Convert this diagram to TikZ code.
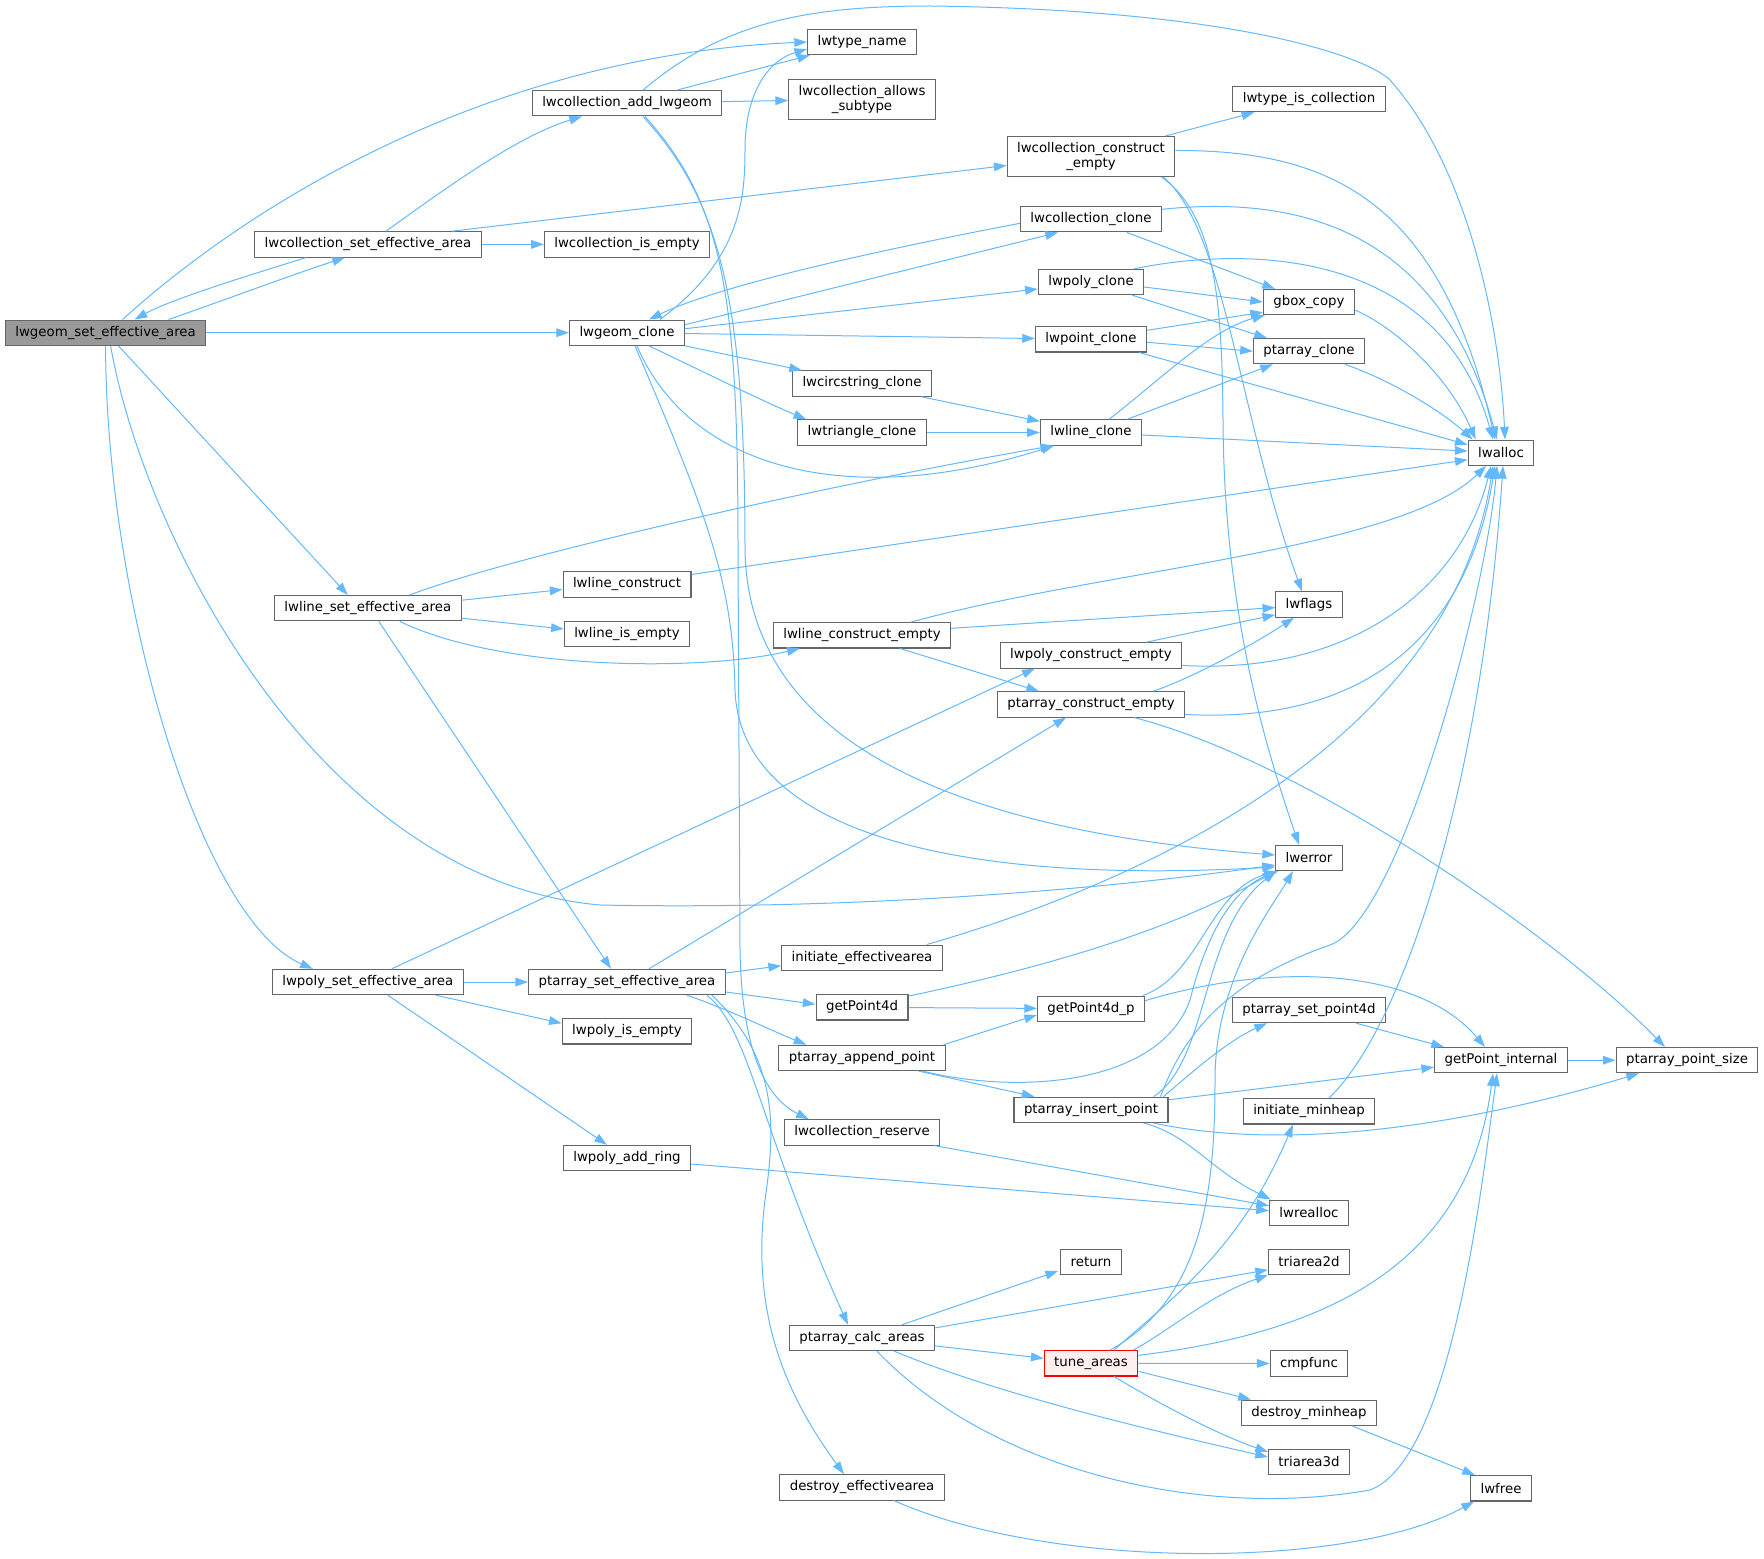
\documentclass[tikz,border=0pt]{standalone}
\usepackage{fontspec}
\setmainfont{DejaVu Sans}
\usepackage{xcolor}
\usetikzlibrary{arrows.meta, calc}
\definecolor{edgeblue}{HTML}{63B8FF}
\definecolor{boxgray}{HTML}{666666}
\definecolor{maingray}{HTML}{999999}
\definecolor{pinkfill}{HTML}{FFF0F0}

\begin{document}
\begin{tikzpicture}[x=0.75pt, y=-0.75pt,
    fn/.style={draw=boxgray, fill=white, rectangle, line width=0.8pt, minimum height=19pt, inner xsep=7.5pt, inner ysep=1pt, font=\fontsize{10pt}{11.25pt}\selectfont},
    fn2/.style={fn, align=center, minimum height=30pt},
    fnmain/.style={fn, fill=maingray},
    fnred/.style={fn, draw=red, fill=pinkfill},
    call/.style={draw=edgeblue, line width=0.75pt, -{Triangle[length=9.5pt, width=6.5pt]}}]

    \useasboundingbox (0, 0) rectangle (1764, 1559);

    % rank 0 .. 3
    \node [fnmain] (setArea) at (105.6, 332.7) {lwgeom\_set\_effective\_area};
    \node [fn] (collSet) at (368, 244.4) {lwcollection\_set\_effective\_area};
    \node [fn] (lineSet) at (367.8, 608.2) {lwline\_set\_effective\_area};
    \node [fn] (polySet) at (367.8, 982) {lwpoly\_set\_effective\_area};
    \node [fn] (collAdd) at (627, 103.3) {lwcollection\_add\_lwgeom};
    \node [fn] (collEmpty) at (627, 244.4) {lwcollection\_is\_empty};
    \node [fn] (geomClone) at (627, 332.7) {lwgeom\_clone};
    \node [fn] (lineConstr) at (627, 584.5) {lwline\_construct};
    \node [fn] (lineEmpty) at (627, 634) {lwline\_is\_empty};
    \node [fn] (paSet) at (627, 982) {ptarray\_set\_effective\_area};
    \node [fn] (polyEmpty) at (627, 1031.3) {lwpoly\_is\_empty};
    \node [fn] (polyRing) at (627, 1158) {lwpoly\_add\_ring};
    \node [fn] (typeName) at (862, 42) {lwtype\_name};
    \node [fn2] (collAllows) at (862, 99.2) {lwcollection\_allows\\\_subtype};
    \node [fn] (circClone) at (862, 383.5) {lwcircstring\_clone};
    \node [fn] (triClone) at (862, 432.5) {lwtriangle\_clone};
    \node [fn] (lineConstrEmpty) at (862, 635.3) {lwline\_construct\_empty};
    \node [fn] (initArea) at (862, 957.7) {initiate\_effectivearea};
    \node [fn] (getP4d) at (862, 1007.3) {getPoint4d};
    \node [fn] (paAppend) at (862, 1057.9) {ptarray\_append\_point};
    \node [fn] (collReserve) at (862, 1132.4) {lwcollection\_reserve};
    \node [fn] (calcAreas) at (862, 1337.9) {ptarray\_calc\_areas};
    \node [fn] (destroyArea) at (862, 1487.4) {destroy\_effectivearea};

    % rank 4 .. 7
    \node [fn2] (collConstrEmpty) at (1091, 156.5) {lwcollection\_construct\\\_empty};
    \node [fn] (collClone) at (1091, 219.3) {lwcollection\_clone};
    \node [fn] (polyClone) at (1091, 282) {lwpoly\_clone};
    \node [fn] (pointClone) at (1091, 339.3) {lwpoint\_clone};
    \node [fn] (lineClone) at (1091, 432.5) {lwline\_clone};
    \node [fn] (polyConstrEmpty) at (1091, 655.4) {lwpoly\_construct\_empty};
    \node [fn] (paConstrEmpty) at (1091, 704.4) {ptarray\_construct\_empty};
    \node [fn] (getP4dp) at (1091, 1008.7) {getPoint4d\_p};
    \node [fn] (paInsert) at (1091, 1109.8) {ptarray\_insert\_point};
    \node [fn] (retNode) at (1091, 1261.8) {return};
    \node [fnred] (tuneAreas) at (1091, 1363.3) {tune\_areas};
    \node [fn] (typeIsColl) at (1309, 99.2) {lwtype\_is\_collection};
    \node [fn] (gboxCopy) at (1309, 302) {gbox\_copy};
    \node [fn] (paClone) at (1309, 351.2) {ptarray\_clone};
    \node [fn] (flagsNode) at (1309, 604.6) {lwflags};
    \node [fn] (errNode) at (1309, 858) {lwerror};
    \node [fn] (paSetP4d) at (1309, 1010) {ptarray\_set\_point4d};
    \node [fn] (initHeap) at (1309, 1111.3) {initiate\_minheap};
    \node [fn] (reallocNode) at (1309, 1212.7) {lwrealloc};
    \node [fn] (tri2d) at (1309, 1261.8) {triarea2d};
    \node [fn] (cmpNode) at (1309, 1363.5) {cmpfunc};
    \node [fn] (destroyHeap) at (1309, 1412.7) {destroy\_minheap};
    \node [fn] (tri3d) at (1309, 1462) {triarea3d};
    \node [fn] (allocNode) at (1501, 452.7) {lwalloc};
    \node [fn] (getInternal) at (1501, 1060.2) {getPoint\_internal};
    \node [fn] (freeNode) at (1501, 1488.3) {lwfree};
    \node [fn] (pointSize) at (1687, 1060.2) {ptarray\_point\_size};

    % lwgeom_set_effective_area
    \draw [call] ($(setArea.north)+(17,0)$) .. controls (260, 195) and (500, 55) .. (typeName.west);
    \draw [call] ($(setArea.north)+(63,0)$) .. controls (230, 298) and (300, 272) .. ($(collSet.south)+(-23,0)$);
    \draw [call] (setArea) -- (geomClone);
    \draw [call] ($(setArea.south)+(13,0)$) -- ($(lineSet.north)+(-20,0)$);
    \draw [call] (setArea.south) .. controls (106, 600) and (200, 920) .. ($(polySet.north)+(-55,0)$);
    \draw [call] ($(setArea.south)+(5,0)$) .. controls (145, 540) and (320, 880) .. (600, 905) .. controls (850, 910) and (1100, 890) .. ($(errNode.west)+(0,7)$);

    % lwcollection_set_effective_area
    \draw [call] ($(collSet.south)+(-62,0)$) .. controls (240, 278) and (170, 300) .. ($(setArea.north)+(29,0)$);
    \draw [call] ($(collSet.north)+(18,0)$) .. controls (450, 185) and (520, 135) .. ($(collAdd.south)+(-45,0)$);
    \draw [call] ($(collSet.north)+(84,0)$) -- ($(collConstrEmpty.west)+(0,9)$);
    \draw [call] (collSet) -- (collEmpty);

    % lwcollection_add_lwgeom
    \draw [call] ($(collAdd.north)+(50,0)$) -- ($(typeName.south west)+(3,0)$);
    \draw [call] (collAdd) -- (collAllows);
    \draw [call] ($(collAdd.north)+(16,0)$) .. controls (720, 25) and (800, 6) .. (930, 6) .. controls (1250, 10) and (1370, 60) .. (1390, 80) .. controls (1470, 170) and (1500, 330) .. ($(allocNode.north)+(4,0)$);
    \draw [call] ($(collAdd.south)+(16,0)$) .. controls (720, 200) and (745, 300) .. (745, 550) .. controls (748, 740) and (950, 830) .. ($(errNode.west)+(0,-3)$);
    \draw [call] ($(collAdd.south)+(18,0)$) .. controls (725, 205) and (738, 300) .. (738, 550) -- (740, 950) .. controls (742, 1060) and (770, 1100) .. ($(collReserve.north west)+(25,0)$);

    % lwgeom_clone
    \draw [call] ($(geomClone.north)+(33,0)$) .. controls (740, 260) and (745, 200) .. (745, 150) .. controls (745, 90) and (770, 60) .. ($(typeName.west)+(0,7)$);
    \draw [call] ($(geomClone.east)+(0,-8)$) -- ($(collClone.south)+(-33,0)$);
    \draw [call] ($(collClone.west)+(0,4)$) .. controls (880, 250) and (720, 285) .. ($(geomClone.north)+(22,0)$);
    \draw [call] ($(geomClone.east)+(0,-4)$) -- ($(polyClone.west)+(0,7)$);
    \draw [call] (geomClone) -- (pointClone);
    \draw [call] (geomClone.south east) -- ($(circClone.north west)+(10,0)$);
    \draw [call] ($(geomClone.south)+(22,0)$) .. controls (700, 370) and (760, 400) .. ($(triClone.north west)+(9,0)$);
    \draw [call] ($(geomClone.south)+(10,0)$) .. controls (690, 470) and (850, 510) .. ($(lineClone.south)+(-37,0)$);
    \draw [call] ($(geomClone.south)+(8,0)$) .. controls (705, 510) and (733, 580) .. (735, 690) .. controls (740, 830) and (950, 885) .. ($(errNode.west)+(0,9)$);

    % lwcollection_construct_empty
    \draw [call] ($(collConstrEmpty.north east)+(-10,0)$) -- ($(typeIsColl.south west)+(22,0)$);
    \draw [call] ($(collConstrEmpty.east)+(0,-6)$) .. controls (1330, 150) and (1440, 200) .. ($(allocNode.north)+(-6,0)$);
    \draw [call] ($(collConstrEmpty.south east)+(-12,0)$) .. controls (1225, 230) and (1240, 420) .. ($(flagsNode.north)+(-7,0)$);
    \draw [call] ($(collConstrEmpty.south east)+(-14,0)$) .. controls (1215, 215) and (1222, 300) .. (1223, 420) .. controls (1224, 620) and (1270, 760) .. ($(errNode.north)+(-10,0)$);

    % clones
    \draw [call] ($(collClone.south east)+(-35,0)$) -- ($(gboxCopy.north west)+(12,0)$);
    \draw [call] ($(collClone.east)+(0,-10)$) .. controls (1300, 195) and (1440, 230) .. ($(allocNode.north)+(-4,0)$);
    \draw [call] ($(polyClone.east)+(0,5)$) -- (gboxCopy.west);
    \draw [call] ($(polyClone.south east)+(-12,0)$) -- ($(paClone.north west)+(14,0)$);
    \draw [call] ($(polyClone.north east)+(-10,0)$) .. controls (1250, 245) and (1440, 250) .. ($(allocNode.north)+(-8,0)$);
    \draw [call] ($(pointClone.east)+(0,-9)$) -- ($(gboxCopy.south west)+(0,-3)$);
    \draw [call] ($(pointClone.east)+(0,3)$) -- (paClone.west);
    \draw [call] ($(pointClone.south east)+(-8,0)$) -- ($(allocNode.west)+(0,-8)$);
    \draw [call] ($(lineClone.north)+(18,0)$) .. controls (1160, 380) and (1210, 330) .. ($(gboxCopy.south west)+(2,0)$);
    \draw [call] ($(lineClone.north east)+(-15,0)$) -- ($(paClone.south west)+(20,0)$);
    \draw [call] (lineClone) -- (allocNode);
    \draw [call] ($(circClone.south east)+(-11,0)$) -- ($(lineClone.north west)+(0,2)$);
    \draw [call] (triClone) -- (lineClone);
    \draw [call] ($(gboxCopy.east)+(0,8)$) .. controls (1400, 330) and (1450, 380) .. ($(allocNode.north west)+(8,0)$);
    \draw [call] ($(paClone.south east)+(-20,0)$) .. controls (1390, 380) and (1440, 410) .. ($(allocNode.north west)+(5,0)$);

    % lwline_set_effective_area
    \draw [call] ($(lineSet.east)+(0,-8)$) -- ($(lineConstr.west)+(0,5)$);
    \draw [call] ($(lineSet.east)+(0,10)$) -- ($(lineEmpty.west)+(0,-5)$);
    \draw [call] ($(lineSet.south)+(32,0)$) .. controls (500, 670) and (700, 672) .. ($(lineConstrEmpty.south west)+(27,0)$);
    \draw [call] ($(lineSet.north)+(42,0)$) .. controls (500, 560) and (800, 490) .. ($(lineClone.south)+(-38,0)$);
    \draw [call] ($(lineSet.south)+(11,0)$) -- ($(paSet.north)+(-16,0)$);
    \draw [call] ($(lineConstr.east)+(0,-10)$) -- ($(allocNode.west)+(0,7)$);

    % construct_empty
    \draw [call] ($(lineConstrEmpty.north)+(49,0)$) .. controls (1100, 570) and (1400, 550) .. ($(allocNode.south)+(-15,0)$);
    \draw [call] ($(lineConstrEmpty.east)+(0,-7)$) -- ($(flagsNode.west)+(0,3)$);
    \draw [call] ($(lineConstrEmpty.south)+(38,0)$) -- ($(paConstrEmpty.north)+(-52,0)$);
    \draw [call] ($(polyConstrEmpty.north east)+(-36,0)$) -- ($(flagsNode.south west)+(0,-3)$);
    \draw [call] ($(polyConstrEmpty.east)+(0,10)$) .. controls (1350, 675) and (1460, 590) .. ($(allocNode.south)+(-10,0)$);
    \draw [call] ($(paConstrEmpty.north east)+(-32,0)$) .. controls (1200, 675) and (1260, 640) .. ($(flagsNode.south)+(-15,0)$);
    \draw [call] ($(paConstrEmpty.east)+(0,10)$) .. controls (1380, 725) and (1470, 620) .. ($(allocNode.south)+(-6,0)$);
    \draw [call] ($(paConstrEmpty.south east)+(-51,0)$) .. controls (1300, 760) and (1550, 930) .. ($(pointSize.north)+(-22,0)$);

    % lwpoly_set_effective_area
    \draw [call] ($(polySet.north)+(24,0)$) -- ($(polyConstrEmpty.south west)+(35,0)$);
    \draw [call] (polySet) -- (paSet);
    \draw [call] ($(polySet.south east)+(-28,0)$) -- ($(polyEmpty.west)+(0,-8)$);
    \draw [call] ($(polySet.south)+(20,0)$) -- ($(polyRing.north)+(-20,0)$);
    \draw [call] ($(polyRing.east)+(0,6)$) -- ($(reallocNode.west)+(0,-2)$);

    % ptarray_set_effective_area
    \draw [call] ($(paSet.north)+(22,0)$) -- ($(paConstrEmpty.south)+(-25,0)$);
    \draw [call] ($(paSet.east)+(0,-9)$) -- ($(initArea.west)+(0,8)$);
    \draw [call] ($(paSet.east)+(0,10)$) -- ($(getP4d.west)+(0,-3)$);
    \draw [call] ($(paSet.south)+(60,0)$) .. controls (730, 1010) and (770, 1030) .. ($(paAppend.north west)+(28,0)$);
    \draw [call] ($(paSet.south)+(80,0)$) .. controls (750, 1030) and (760, 1130) .. ($(calcAreas.north)+(-14,0)$);
    \draw [call] ($(paSet.south)+(85,0)$) .. controls (780, 1060) and (775, 1130) .. (765, 1200) .. controls (750, 1320) and (790, 1400) .. ($(destroyArea.north)+(-18,0)$);
    \draw [call] ($(initArea.north east)+(-16,0)$) .. controls (1150, 880) and (1450, 740) .. ($(allocNode.south)+(-8,0)$);

    % getPoint4d
    \draw [call] (getP4d) -- (getP4dp);
    \draw [call] ($(getP4d.north east)+(0,2)$) .. controls (1080, 960) and (1190, 920) .. (errNode.south west);
    \draw [call] ($(getP4dp.north east)+(-2,0)$) .. controls (1200, 975) and (1210, 890) .. ($(errNode.south west)+(2,0)$);
    \draw [call] ($(getP4dp.east)+(0,-8)$) .. controls (1280, 960) and (1420, 970) .. ($(getInternal.north)+(-16,0)$);
    \draw [call] ($(paAppend.north east)+(-2,0)$) -- ($(getP4dp.south west)+(0,-7)$);
    \draw [call] ($(paAppend.south east)+(-23,0)$) .. controls (1020, 1095) and (1160, 1085) .. (1190, 1000) .. controls (1205, 940) and (1230, 890) .. ($(errNode.south west)+(3,0)$);
    \draw [call] ($(paAppend.south east)+(-27,0)$) -- ($(paInsert.north west)+(21,0)$);

    % ptarray_insert_point
    \draw [call] ($(paInsert.north east)+(-5,0)$) .. controls (1200, 1065) and (1230, 1040) .. ($(paSetP4d.south)+(-42,0)$);
    \draw [call] ($(paInsert.east)+(0,-10)$) -- ($(getInternal.west)+(0,7)$);
    \draw [call] ($(paInsert.south east)+(-15,0)$) .. controls (1280, 1150) and (1450, 1130) .. ($(pointSize.south)+(-48,0)$);
    \draw [call] ($(paInsert.south east)+(-25,0)$) .. controls (1190, 1135) and (1210, 1170) .. ($(reallocNode.north west)+(2,0)$);
    \draw [call] ($(paInsert.north east)+(-15,0)$) .. controls (1210, 1060) and (1200, 930) .. ($(errNode.south west)+(1,0)$);
    \draw [call] ($(paInsert.north east)+(-8,0)$) .. controls (1185, 1030) and (1230, 980) .. (1330, 945) .. controls (1400, 920) and (1485, 600) .. ($(allocNode.south)+(-4,0)$);
    \draw [call] ($(paSetP4d.south east)+(-30,0)$) -- ($(getInternal.north west)+(10,0)$);
    \draw [call] (getInternal) -- (pointSize);
    \draw [call] ($(collReserve.south east)+(-6,0)$) -- ($(reallocNode.west)+(0,-7)$);

    % ptarray_calc_areas
    \draw [call] ($(calcAreas.north)+(40,0)$) -- ($(retNode.south west)+(-2,-4)$);
    \draw [call] ($(calcAreas.east)+(0,-10)$) -- ($(tri2d.west)+(0,8)$);
    \draw [call] ($(calcAreas.east)+(0,8)$) -- ($(tuneAreas.west)+(0,-5)$);
    \draw [call] ($(calcAreas.south)+(32,0)$) .. controls (1000, 1395) and (1150, 1430) .. ($(tri3d.west)+(0,-5)$);
    \draw [call] ($(calcAreas.south)+(15,0)$) .. controls (990, 1470) and (1200, 1520) .. (1370, 1490) .. controls (1450, 1460) and (1480, 1200) .. ($(getInternal.south)+(-4,0)$);
    \draw [call] ($(destroyArea.south)+(32,0)$) .. controls (1050, 1570) and (1350, 1570) .. ($(freeNode.south west)+(4,0)$);

    % tune_areas
    \draw [call] ($(tuneAreas.north)+(23,0)$) .. controls (1170, 1300) and (1240, 1250) .. ($(initHeap.south)+(-16,0)$);
    \draw [call] ($(tuneAreas.north)+(19,0)$) .. controls (1200, 1300) and (1215, 1200) .. (1215, 1080) .. controls (1215, 980) and (1270, 910) .. ($(errNode.south)+(-16,0)$);
    \draw [call] ($(tuneAreas.north east)+(-5,0)$) .. controls (1170, 1330) and (1210, 1295) .. (tri2d.south west);
    \draw [call] ($(tuneAreas.east)+(0,-8)$) .. controls (1350, 1330) and (1470, 1250) .. ($(getInternal.south)+(-8,0)$);
    \draw [call] (tuneAreas) -- (cmpNode);
    \draw [call] ($(tuneAreas.east)+(0,8)$) -- ($(destroyHeap.north west)+(10,0)$);
    \draw [call] ($(tuneAreas.south)+(23,0)$) .. controls (1170, 1410) and (1220, 1435) .. ($(tri3d.west)+(0,-10)$);
    \draw [call] ($(initHeap.north)+(20,0)$) .. controls (1400, 1030) and (1480, 800) .. ($(allocNode.south)+(2,0)$);
    \draw [call] ($(destroyHeap.south east)+(-25,0)$) -- ($(freeNode.north west)+(5,0)$);
\end{tikzpicture}
\end{document}
